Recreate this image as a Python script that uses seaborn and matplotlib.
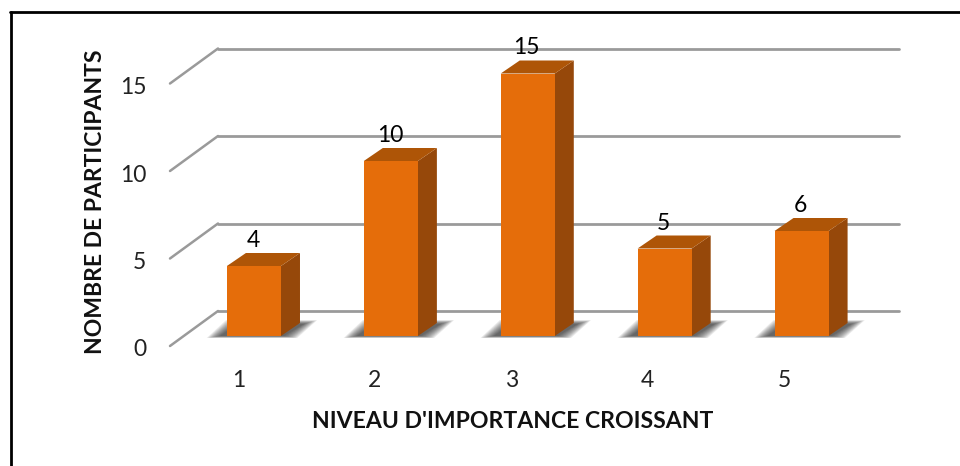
import matplotlib
matplotlib.use("Agg")
import matplotlib.pyplot as plt
from matplotlib.patches import Polygon, ConnectionPatch
from matplotlib.transforms import ScaledTranslation
import seaborn as sns
import pandas as pd

levels = ["1", "2", "3", "4", "5"]
participants = [4, 10, 15, 5, 6]
y_ticks = [0, 5, 10, 15]
x_title = "NIVEAU D'IMPORTANCE CROISSANT"
y_title = "NOMBRE DE PARTICIPANTS"

FRONT = "#E56D0A"
SIDE = "#96480A"
TOP = "#AE5507"
GRID = "#9A9A9A"

sns.set_theme(style="white")
plt.rcParams["font.family"] = ["Lato", "DejaVu Sans"]
W, H = 960, 466
fig = plt.figure(figsize=(W / 100, H / 100), dpi=100, facecolor="white")

def make_axes(left, right, y0):
    top = y0 - 17.5 * 17
    return fig.add_axes([left / W, 1 - y0 / H, (right - left) / W, (y0 - top) / H], facecolor="none")

back = make_axes(218, 899.5, 311)
mid = make_axes(185.5, 870, 336)
front = make_axes(170, 852.5, 346)

for a in (back, mid, front):
    a.set_xlim(-0.5, 4.5)
    a.set_ylim(0, 17)
    sns.despine(ax=a, left=True, bottom=True, top=True, right=True)
    a.tick_params(length=0)

# back wall and slanted gridlines
back.set_xticks([])
back.set_yticks([])
for v in y_ticks:
    back.axhline(v, color=GRID, lw=2, zorder=1, clip_on=False)
    fig.add_artist(ConnectionPatch((-0.5, v), (-0.5, v), "data", "data", axesA=front, axesB=back,
                                   color=GRID, lw=1.8, zorder=1))

# bars
df = pd.DataFrame({"niveau": levels, "n": participants})
sns.barplot(data=df, x="niveau", y="n", ax=mid, color=FRONT, saturation=1, width=0.395, zorder=5,
            edgecolor="none", linewidth=0)
mid.set_xlabel("")
mid.set_ylabel("")
mid.set_xticks([])
mid.set_yticks([])
mid.set_xlim(-0.5, 4.5)
mid.set_ylim(0, 17)

ux = 5 / 684.5
uy = 17 / (17.5 * 17)
dx, dy = 19 * ux, 13 * uy

for bar, val in zip(mid.patches[:len(participants)], participants):
    x0, x1 = bar.get_x(), bar.get_x() + bar.get_width()
    # soft floor shadow made of stacked translucent layers
    for i in range(12):
        g = i * 1.0
        pts = [(x0 - (7 + g * 1.2) * ux, (0 - g * 0.18) * uy),
               (x1 + (3 + g * 1.2) * ux, (0 - g * 0.18) * uy),
               (x1 + (23 + g * 1.2) * ux, (12 + g * 0.35) * uy),
               (x0 + (10 - g) * ux, (12 + g * 0.35) * uy)]
        mid.add_patch(Polygon(pts, closed=True, fc="#202020", ec="none", alpha=0.085, zorder=2, clip_on=False))
    mid.add_patch(Polygon([(x1, 0), (x1 + dx, dy), (x1 + dx, val + dy), (x1, val)],
                          closed=True, fc=SIDE, ec="none", zorder=4, clip_on=False))
    mid.add_patch(Polygon([(x0, val), (x1, val), (x1 + dx, val + dy), (x0 + dx, val + dy)],
                          closed=True, fc=TOP, ec="none", zorder=4, clip_on=False))
    mid.text((x0 + x1) / 2 - 1 * ux, val + 15 * uy, str(val), ha="center", va="bottom", fontsize=16.5,
             color="black", zorder=6)

# axis labels on the front plane
front.set_xticks(range(len(levels)))
front.set_xticklabels(levels, fontsize=16.5, color="#222222")
front.set_yticks(y_ticks)
front.set_yticklabels([str(v) for v in y_ticks], fontsize=16.5, color="#222222")
front.tick_params(axis="x", pad=17)
front.tick_params(axis="y", pad=17)
shift = ScaledTranslation(0, -2 / 100, fig.dpi_scale_trans)
for lab in front.get_yticklabels():
    lab.set_transform(lab.get_transform() + shift)
fig.text(513 / W, 1 - 422 / H, x_title, ha="center", va="center", fontsize=16.6, fontweight="bold", color="#111111")
fig.text(96 / W, 1 - 202 / H, y_title, ha="center", va="center", rotation=90, fontsize=16.5, fontweight="bold", color="#111111")

# outer frame: top and left only
fig.add_artist(plt.Line2D([10.5 / W, 10.5 / W], [0, 1 - 12 / H], color="black", lw=2))
fig.add_artist(plt.Line2D([9.5 / W, 1], [1 - 12 / H, 1 - 12 / H], color="black", lw=2))

fig.savefig("out.png", dpi=100, facecolor="white")
